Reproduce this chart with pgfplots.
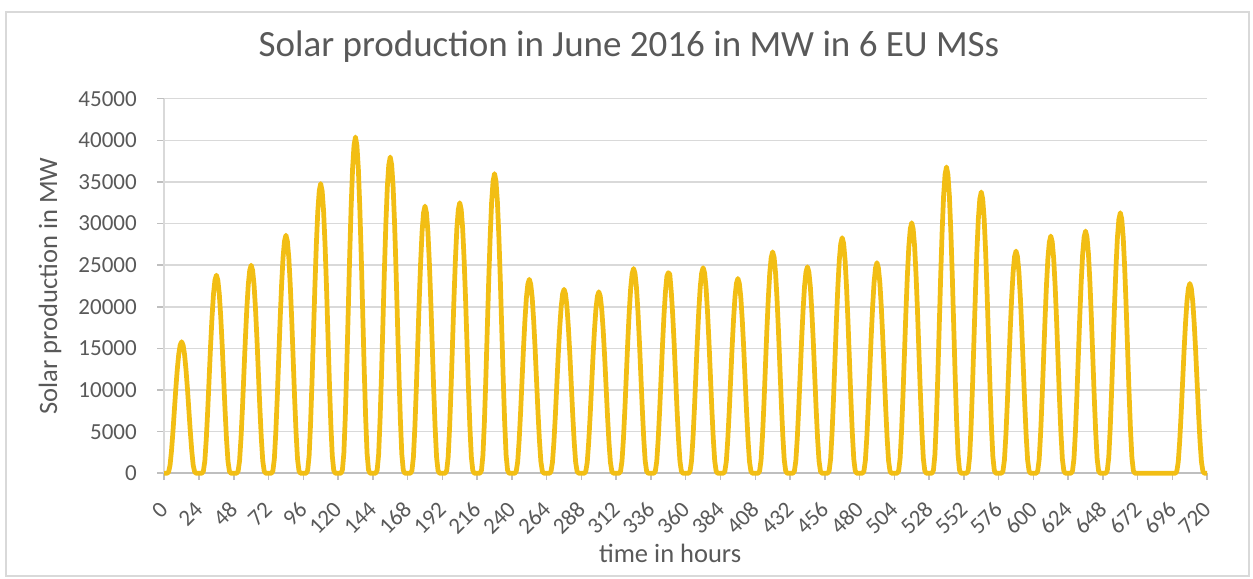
\documentclass[border=0pt]{standalone}
\usepackage{fontspec}
\setmainfont{Carlito}
\usepackage{pgfplots}
\pgfplotsset{compat=1.18}
\definecolor{solar}{RGB}{242,190,20}
\definecolor{txt}{RGB}{89,89,89}
\definecolor{gridc}{RGB}{217,217,217}
\definecolor{axisc}{RGB}{191,191,191}
\begin{document}
\begin{tikzpicture}
\begin{axis}[
  scale only axis,
  width=417.2pt, height=149.8pt,
  xmin=0, xmax=720, ymin=0, ymax=45000,
  xtick={0,24,...,720},
  ytick={0,5000,...,45000},
  scaled y ticks=false,
  /pgf/number format/assume math mode=true,
  /pgf/number format/set thousands separator={},
  ymajorgrids,
  major grid style={draw=gridc, line width=0.6pt},
  axis x line*=bottom, axis y line*=left,
  x axis line style={draw=axisc, line width=0.6pt},
  y axis line style={draw=gridc, line width=0.6pt},
  tick style={draw=axisc, line width=0.6pt},
  tick align=outside, major tick length=2.8pt,
  tick label style={font=\fontsize{9.2}{11}\selectfont, text=txt, inner sep=0pt},
  xticklabel style={rotate=45, anchor=east},
  xticklabel shift=10pt,
  yticklabel style={anchor=east},
  yticklabel shift=8pt,
  label style={font=\fontsize{10.6}{12}\selectfont, text=txt},
  xlabel={time in hours},
  ylabel={Solar production in MW},
  xlabel style={at={(axis description cs:0.485,-0.213)}, anchor=center},
  ylabel style={at={(axis description cs:-0.1095,0.5)}, anchor=center},
  clip=false,
]
\addplot[solar, line width=1.9pt, line join=round] coordinates {
(0,0) (2,0) (3,158) (4,948) (5,2686) (6,4977) (7,7584) (8,10191) (9,12482) (10,14299) (11,15405) (12,15800) (13,15405) (14,14299) (15,12482) (16,10191) (17,7584) (18,4977) (19,2686) (20,948) (21,158) (22,0)
(26,0) (27,238) (28,1428) (29,4046) (30,7497) (31,11424) (32,15351) (33,18802) (34,21539) (35,23205) (36,23800) (37,23205) (38,21539) (39,18802) (40,15351) (41,11424) (42,7497) (43,4046) (44,1428) (45,238) (46,0)
(50,0) (51,250) (52,1500) (53,4250) (54,7875) (55,12000) (56,16125) (57,19750) (58,22625) (59,24375) (60,25000) (61,24375) (62,22625) (63,19750) (64,16125) (65,12000) (66,7875) (67,4250) (68,1500) (69,250) (70,0)
(74,0) (75,286) (76,1716) (77,4862) (78,9009) (79,13728) (80,18447) (81,22594) (82,25883) (83,27885) (84,28600) (85,27885) (86,25883) (87,22594) (88,18447) (89,13728) (90,9009) (91,4862) (92,1716) (93,286) (94,0)
(98,0) (99,348) (100,2088) (101,5916) (102,10962) (103,16704) (104,22446) (105,27492) (106,31494) (107,33930) (108,34800) (109,33930) (110,31494) (111,27492) (112,22446) (113,16704) (114,10962) (115,5916) (116,2088) (117,348) (118,0)
(122,0) (123,404) (124,2424) (125,6868) (126,12726) (127,19392) (128,26058) (129,31916) (130,36562) (131,39390) (132,40400) (133,39390) (134,36562) (135,31916) (136,26058) (137,19392) (138,12726) (139,6868) (140,2424) (141,404) (142,0)
(146,0) (147,380) (148,2280) (149,6460) (150,11970) (151,18240) (152,24510) (153,30020) (154,34390) (155,37050) (156,38000) (157,37050) (158,34390) (159,30020) (160,24510) (161,18240) (162,11970) (163,6460) (164,2280) (165,380) (166,0)
(170,0) (171,321) (172,1926) (173,5457) (174,10112) (175,15408) (176,20705) (177,25359) (178,29051) (179,31298) (180,32100) (181,31298) (182,29051) (183,25359) (184,20705) (185,15408) (186,10112) (187,5457) (188,1926) (189,321) (190,0)
(194,0) (195,325) (196,1950) (197,5525) (198,10238) (199,15600) (200,20963) (201,25675) (202,29413) (203,31688) (204,32500) (205,31688) (206,29413) (207,25675) (208,20963) (209,15600) (210,10238) (211,5525) (212,1950) (213,325) (214,0)
(218,0) (219,360) (220,2160) (221,6120) (222,11340) (223,17280) (224,23220) (225,28440) (226,32580) (227,35100) (228,36000) (229,35100) (230,32580) (231,28440) (232,23220) (233,17280) (234,11340) (235,6120) (236,2160) (237,360) (238,0)
(242,0) (243,233) (244,1398) (245,3961) (246,7340) (247,11184) (248,15029) (249,18407) (250,21087) (251,22718) (252,23300) (253,22718) (254,21087) (255,18407) (256,15029) (257,11184) (258,7340) (259,3961) (260,1398) (261,233) (262,0)
(266,0) (267,221) (268,1326) (269,3757) (270,6962) (271,10608) (272,14255) (273,17459) (274,20001) (275,21548) (276,22100) (277,21548) (278,20001) (279,17459) (280,14255) (281,10608) (282,6962) (283,3757) (284,1326) (285,221) (286,0)
(290,0) (291,218) (292,1308) (293,3706) (294,6867) (295,10464) (296,14061) (297,17222) (298,19729) (299,21255) (300,21800) (301,21255) (302,19729) (303,17222) (304,14061) (305,10464) (306,6867) (307,3706) (308,1308) (309,218) (310,0)
(314,0) (315,246) (316,1476) (317,4182) (318,7749) (319,11808) (320,15867) (321,19434) (322,22263) (323,23985) (324,24600) (325,23985) (326,22263) (327,19434) (328,15867) (329,11808) (330,7749) (331,4182) (332,1476) (333,246) (334,0)
(338,0) (339,241) (340,1446) (341,4097) (342,7592) (343,11568) (344,15545) (345,19039) (346,21811) (347,23700) (348,24100) (349,23900) (350,21811) (351,19039) (352,15545) (353,11568) (354,7592) (355,4097) (356,1446) (357,241) (358,0)
(362,0) (363,247) (364,1482) (365,4199) (366,7781) (367,11856) (368,15932) (369,19513) (370,22354) (371,24083) (372,24700) (373,24083) (374,22354) (375,19513) (376,15932) (377,11856) (378,7781) (379,4199) (380,1482) (381,247) (382,0)
(386,0) (387,234) (388,1404) (389,3978) (390,7371) (391,11232) (392,15093) (393,18486) (394,21177) (395,22815) (396,23400) (397,22815) (398,21177) (399,18486) (400,15093) (401,11232) (402,7371) (403,3978) (404,1404) (405,234) (406,0)
(410,0) (411,266) (412,1596) (413,4522) (414,8379) (415,12768) (416,17157) (417,21014) (418,24073) (419,25935) (420,26600) (421,25935) (422,24073) (423,21014) (424,17157) (425,12768) (426,8379) (427,4522) (428,1596) (429,266) (430,0)
(434,0) (435,248) (436,1488) (437,4216) (438,7812) (439,11904) (440,15996) (441,19592) (442,22444) (443,24180) (444,24800) (445,24180) (446,22444) (447,19592) (448,15996) (449,11904) (450,7812) (451,4216) (452,1488) (453,248) (454,0)
(458,0) (459,283) (460,1698) (461,4811) (462,8915) (463,13584) (464,18254) (465,22357) (466,25612) (467,27593) (468,28300) (469,27593) (470,25612) (471,22357) (472,18254) (473,13584) (474,8915) (475,4811) (476,1698) (477,283) (478,0)
(482,0) (483,253) (484,1518) (485,4301) (486,7970) (487,12144) (488,16319) (489,19987) (490,22897) (491,24668) (492,25300) (493,24668) (494,22897) (495,19987) (496,16319) (497,12144) (498,7970) (499,4301) (500,1518) (501,253) (502,0)
(506,0) (507,301) (508,1806) (509,5117) (510,9482) (511,14448) (512,19415) (513,23779) (514,27241) (515,29348) (516,30100) (517,29348) (518,27241) (519,23779) (520,19415) (521,14448) (522,9482) (523,5117) (524,1806) (525,301) (526,0)
(530,0) (531,368) (532,2208) (533,6256) (534,11592) (535,17664) (536,23736) (537,29072) (538,33304) (539,35880) (540,36800) (541,35880) (542,33304) (543,29072) (544,23736) (545,17664) (546,11592) (547,6256) (548,2208) (549,368) (550,0)
(554,0) (555,338) (556,2028) (557,5746) (558,10647) (559,16224) (560,21801) (561,26702) (562,30589) (563,32955) (564,33800) (565,32955) (566,30589) (567,26702) (568,21801) (569,16224) (570,10647) (571,5746) (572,2028) (573,338) (574,0)
(578,0) (579,267) (580,1602) (581,4539) (582,8411) (583,12816) (584,17222) (585,21093) (586,24164) (587,26033) (588,26700) (589,26033) (590,24164) (591,21093) (592,17222) (593,12816) (594,8411) (595,4539) (596,1602) (597,267) (598,0)
(602,0) (603,285) (604,1710) (605,4845) (606,8978) (607,13680) (608,18383) (609,22515) (610,25793) (611,27788) (612,28500) (613,27788) (614,25793) (615,22515) (616,18383) (617,13680) (618,8978) (619,4845) (620,1710) (621,285) (622,0)
(626,0) (627,291) (628,1746) (629,4947) (630,9167) (631,13968) (632,18770) (633,22989) (634,26336) (635,28373) (636,29100) (637,28373) (638,26336) (639,22989) (640,18770) (641,13968) (642,9167) (643,4947) (644,1746) (645,291) (646,0)
(650,0) (651,313) (652,1878) (653,5321) (654,9860) (655,15024) (656,20189) (657,24727) (658,28327) (659,30518) (660,31300) (661,30518) (662,28327) (663,24727) (664,20189) (665,15024) (666,9860) (667,5321) (668,1878) (669,313) (670,0)
(698,0) (699,228) (700,1368) (701,3876) (702,7182) (703,10944) (704,14706) (705,18012) (706,20634) (707,22230) (708,22800) (709,22230) (710,20634) (711,18012) (712,14706) (713,10944) (714,7182) (715,3876) (716,1368) (717,228) (718,0) (720,0)
};
\end{axis}
\node[font=\fontsize{14.8}{17}\selectfont, text=txt] at (185.9pt,170.5pt) {Solar production in June 2016 in MW in 6 EU MSs};
\draw[gridc, line width=0.6pt] (-63.3pt,-41.1pt) rectangle (433.9pt,184.5pt);
\pgfresetboundingbox
\useasboundingbox (-65.7pt,-42.3pt) rectangle (435.5pt,189.3pt);
\end{tikzpicture}
\end{document}
